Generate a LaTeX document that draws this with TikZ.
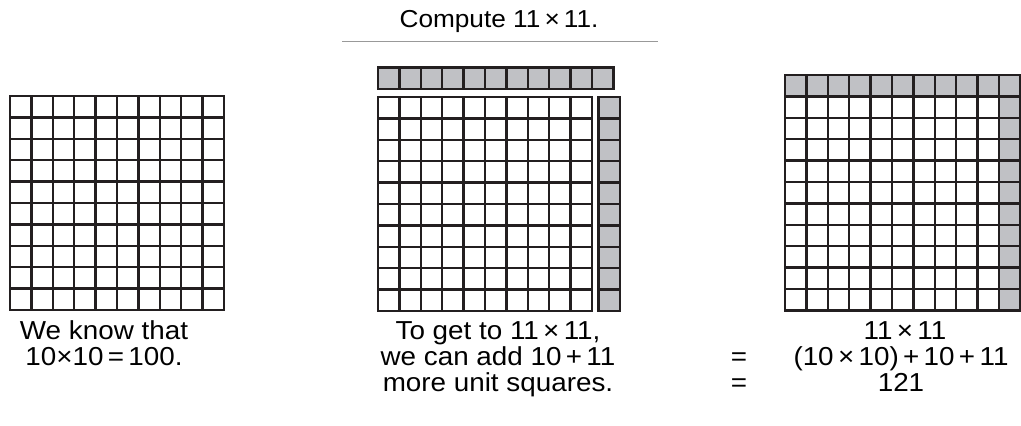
\documentclass[tikz,border=0pt]{standalone}
\usepackage{fontspec}
\setmainfont{Liberation Sans}
\newfontfamily\capfont[FakeStretch=1.07]{Liberation Sans}
\definecolor{cellgray}{RGB}{192,193,197}
\definecolor{gridink}{RGB}{35,31,32}
\tikzset{
  unitcell/.style={draw=gridink,line width=2.4pt,fill=white},
  graycell/.style={unitcell,fill=cellgray},
  caption/.style={font=\capfont\fontsize{26}{27}\selectfont,align=center,inner sep=0pt}
}
\newcommand{\tms}{\,×\,}
\newcommand{\pls}{\,+\,}

\begin{document}
\begin{tikzpicture}[x=1pt,y=1pt]
    \useasboundingbox (0,0) rectangle (1021,426);
    \def\c{21.4}

    % title and rule
    \node[caption,anchor=base,font=\capfont\fontsize{24.5}{27}\selectfont] (title) at (499,398) {Compute 11\tms 11.};
    \coordinate (ruleL) at (342,384.5);
    \coordinate (ruleR) at (658,384.5);
    \draw[gray!80,line width=1pt] (ruleL) -- (ruleR);

    % 10 by 10
    \foreach \i in {0,...,9}
        \foreach \j in {1,...,10}
            \draw[unitcell] (10+\c*\i,330-\c*\j) rectangle +(\c,\c);

    % 10 by 10 with a row of 11 and a column of 10
    \foreach \i in {0,...,9}
        \foreach \j in {1,...,10}
            \draw[unitcell] (378+\c*\i,329-\c*\j) rectangle +(\c,\c);
    \foreach \i in {0,...,10}
        \draw[graycell] (378+\c*\i,337) rectangle +(\c,\c);
    \foreach \j in {1,...,10}
        \draw[graycell] (598.5,329-\c*\j) rectangle +(\c,\c);

    % 11 by 11
    \foreach \i in {0,...,10}
        \foreach \j in {1,...,11}
            \draw[unitcell] (785+\c*\i,351-\c*\j) rectangle +(\c,\c);
    \foreach \i in {0,...,10}
        \draw[graycell] (785+\c*\i,351-\c) rectangle +(\c,\c);
    \foreach \j in {1,...,11}
        \draw[graycell] (785+\c*10,351-\c*\j) rectangle +(\c,\c);

    % captions
    \node[caption,anchor=base] (knowA) at (104,86) {We know that};
    \node[caption,anchor=base] (knowB) at (104,60) {10×10\,=\,100.};
    \node[caption,anchor=base] (getA) at (498,86) {To get to 11\tms 11,};
    \node[caption,anchor=base] (getB) at (498,60) {we can add 10\pls 11};
    \node[caption,anchor=base] (getC) at (498,34) {more unit squares.};
    \node[caption,anchor=base] (prodA) at (905,86) {11\tms 11};
    \node[caption,anchor=base] (eqA) at (739,60) {=};
    \node[caption,anchor=base] (prodB) at (901,60) {(10\tms 10)\pls 10\pls 11};
    \node[caption,anchor=base] (eqB) at (739,34) {=};
    \node[caption,anchor=base] (prodC) at (901,34) {121};
\end{tikzpicture}
\end{document}
